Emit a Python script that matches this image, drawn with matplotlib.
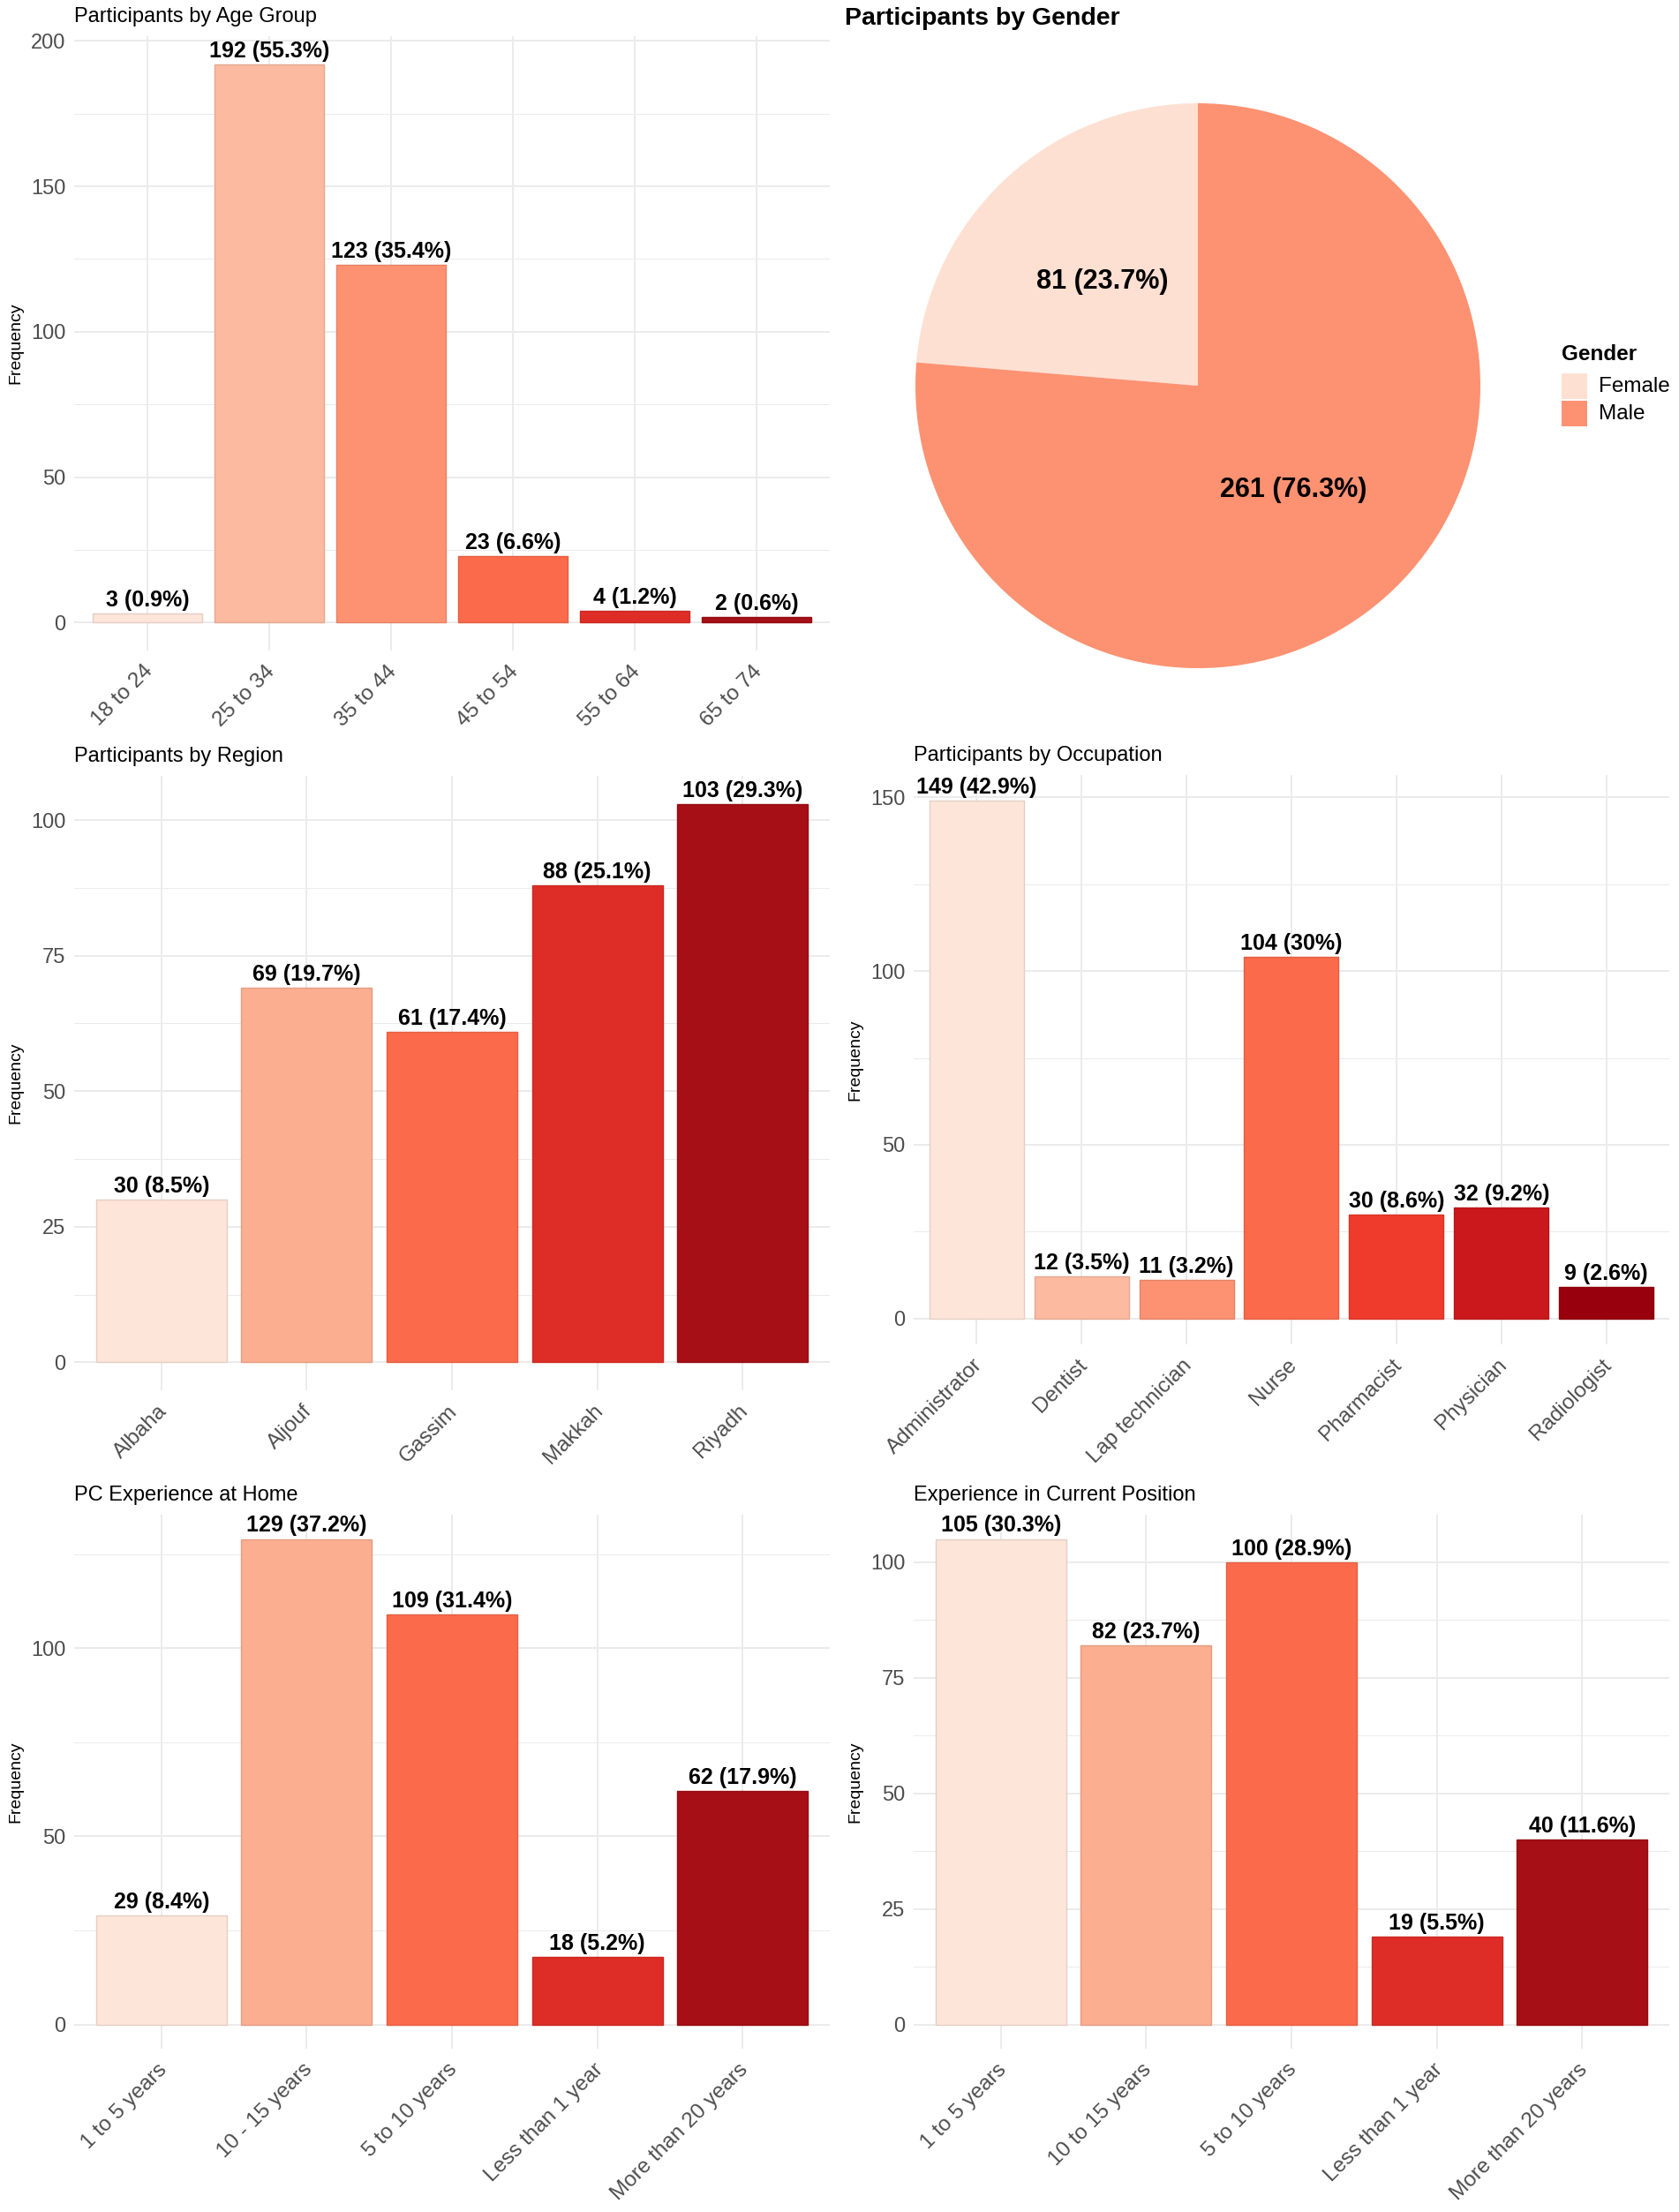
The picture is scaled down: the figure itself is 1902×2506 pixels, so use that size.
import math
import matplotlib
matplotlib.use("Agg")
import matplotlib.pyplot as plt
from matplotlib.patches import Rectangle
from matplotlib.colors import to_rgb
import matplotlib.transforms as mtransforms

plt.rcParams['font.family'] = ['Liberation Sans', 'DejaVu Sans']

# ---------------- data ----------------
age_groups = ["18 to 24", "25 to 34", "35 to 44", "45 to 54", "55 to 64", "65 to 74"]
age_counts = [3, 192, 123, 23, 4, 2]
age_pcts = [0.9, 55.3, 35.4, 6.6, 1.2, 0.6]

genders = ["Female", "Male"]
gender_counts = [81, 261]
gender_pcts = [23.7, 76.3]

regions = ["Albaha", "Aljouf", "Gassim", "Makkah", "Riyadh"]
region_counts = [30, 69, 61, 88, 103]
region_pcts = [8.5, 19.7, 17.4, 25.1, 29.3]

occupations = ["Administrator", "Dentist", "Lap technician", "Nurse",
               "Pharmacist", "Physician", "Radiologist"]
occupation_counts = [149, 12, 11, 104, 30, 32, 9]
occupation_pcts = [42.9, 3.5, 3.2, 30, 8.6, 9.2, 2.6]

pc_levels = ["1 to 5 years", "10 - 15 years", "5 to 10 years",
             "Less than 1 year", "More than 20 years"]
pc_counts = [29, 129, 109, 18, 62]
pc_pcts = [8.4, 37.2, 31.4, 5.2, 17.9]

pos_levels = ["1 to 5 years", "10 to 15 years", "5 to 10 years",
              "Less than 1 year", "More than 20 years"]
pos_counts = [105, 82, 100, 19, 40]
pos_pcts = [30.3, 23.7, 28.9, 5.5, 11.6]

# ---------------- styling ----------------
REDS = {
    3: ["#FEE0D2", "#FC9272", "#DE2D26"],
    5: ["#FEE5D9", "#FCAE91", "#FB6A4A", "#DE2D26", "#A50F15"],
    6: ["#FEE5D9", "#FCBBA1", "#FC9272", "#FB6A4A", "#DE2D26", "#A50F15"],
    7: ["#FEE5D9", "#FCBBA1", "#FC9272", "#FB6A4A", "#EF3B2C", "#CB181D", "#99000D"],
}

W, H = 1902, 2506
fig = plt.figure(figsize=(W / 100, H / 100), dpi=100)


def rect(x0, y0, x1, y1):
    return [x0 / W, 1 - y1 / H, (x1 - x0) / W, (y1 - y0) / H]


def darker(c, f=0.9):
    r, g, b = to_rgb(c)
    return (r * f, g * f, b * f)


def fmt_pct(p):
    return f"{p:g}"


def bar_panel(box, title, cats, counts, pcts, major, minor):
    ax = fig.add_axes(rect(*box))
    n = len(cats)
    cols = REDS[n]
    x = list(range(n))
    ax.bar(x, counts, width=0.9, color=cols,
           edgecolor=[darker(c) for c in cols], linewidth=1.0, zorder=3)
    ymax = max(counts)
    ax.set_xlim(-0.6, n - 0.4)
    ax.set_ylim(-0.05 * ymax, 1.05 * ymax)
    ax.set_yticks(major)
    ax.set_yticks(minor, minor=True)
    ax.set_xticks(x)
    ax.set_xticklabels(cats, rotation=45, ha='right', va='top',
                       rotation_mode='anchor')
    ax.tick_params(axis='both', which='both', length=0, labelsize=17,
                   labelcolor='#4D4D4D')
    ax.tick_params(axis='x', labelsize=17.5)
    ax.tick_params(axis='y', pad=7)
    ax.tick_params(axis='x', pad=9)
    # small leftward nudge of the rotated labels (applied after tick_params)
    shift = mtransforms.ScaledTranslation(-5 / 100, 0, fig.dpi_scale_trans)
    for tick in ax.xaxis.get_major_ticks():
        tick.label1.set_transform(tick.label1.get_transform() + shift)
    ax.grid(True, which='major', color='#EBEBEB', linewidth=1.4, zorder=0)
    ax.grid(True, which='minor', axis='y', color='#EBEBEB', linewidth=0.7, zorder=0)
    ax.set_axisbelow(True)
    for s in ax.spines.values():
        s.set_visible(False)
    for xi, c, p in zip(x, counts, pcts):
        ax.annotate(f"{c} ({fmt_pct(p)}%)", (xi, c), xytext=(0, 2.2),
                    textcoords='offset points', ha='center', va='bottom',
                    fontsize=18, fontweight='bold', color='black',
                    clip_on=False, zorder=4)
    # y-axis title, 66 px left of the panel
    ax.text(-66 / (box[2] - box[0]), 0.5, "Frequency",
            transform=ax.transAxes, rotation=90, ha='center', va='center',
            fontsize=14, color='black')
    tr = mtransforms.offset_copy(ax.transAxes, fig=fig, x=0, y=22, units='dots')
    ax.text(0, 1, title, transform=tr, ha='left', va='center',
            fontsize=17, color='black')
    return ax


bar_panel((84, 41, 940, 737), "Participants by Age Group", age_groups,
          age_counts, age_pcts, [0, 50, 100, 150, 200], [25, 75, 125, 175])
bar_panel((84, 879, 940, 1575), "Participants by Region", regions,
          region_counts, region_pcts, [0, 25, 50, 75, 100],
          [12.5, 37.5, 62.5, 87.5])
bar_panel((1035, 878, 1891, 1523), "Participants by Occupation", occupations,
          occupation_counts, occupation_pcts, [0, 50, 100, 150], [25, 75, 125])
bar_panel((84, 1716, 940, 2321), "PC Experience at Home", pc_levels,
          pc_counts, pc_pcts, [0, 50, 100], [25, 75, 125])
bar_panel((1035, 1716, 1891, 2321), "Experience in Current Position", pos_levels,
          pos_counts, pos_pcts, [0, 25, 50, 75, 100], [12.5, 37.5, 62.5, 87.5])

# ---------------- pie ----------------
axp = fig.add_axes(rect(1037, 117, 1677, 757))
pie_cols = REDS[3][:2]
wedges, _ = axp.pie(gender_counts, colors=pie_cols, startangle=90,
                    counterclock=True, radius=1,
                    wedgeprops=dict(linewidth=0))
for w, c, p in zip(wedges, gender_counts, gender_pcts):
    ang = math.radians((w.theta1 + w.theta2) / 2)
    axp.text(0.5 * math.cos(ang), 0.5 * math.sin(ang), f"{c} ({fmt_pct(p)}%)",
             ha='center', va='center', fontsize=22, fontweight='bold',
             color='black')
axp.set_xlim(-1, 1)
axp.set_ylim(-1, 1)
axp.axis('off')
fig.text(957 / W, 1 - 21 / H, "Participants by Gender", ha='left', va='center',
         fontsize=20.5, fontweight='bold', color='black')

# legend (drawn as keys + labels in figure pixels)
fig.text(1769 / W, 1 - 401 / H, "Gender", ha='left', va='center',
         fontsize=17.5, fontweight='bold', color='black')
key_tops = [423, 454]
for c, g, top in zip(pie_cols, genders, key_tops):
    fig.add_artist(Rectangle((1769 / W, 1 - (top + 29) / H), 29 / W, 29 / H,
                             transform=fig.transFigure, facecolor=c,
                             edgecolor='none'))
    fig.text(1811 / W, 1 - (top + 15) / H, g, ha='left', va='center',
             fontsize=17.5, color='black')

fig.savefig("out.png", dpi=100, facecolor='white')
